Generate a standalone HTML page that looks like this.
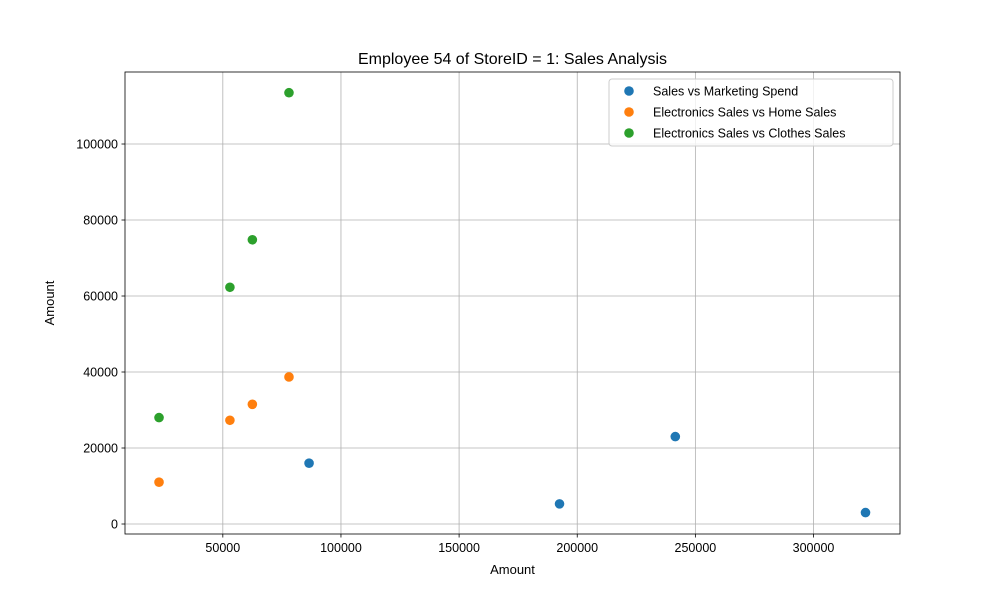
<!DOCTYPE html>
<html><head><meta charset="utf-8"><style>body{margin:0;background:#fff}svg{display:block;font-family:"Liberation Sans","DejaVu Sans",sans-serif}</style></head>
<body>
<svg id="chart" width="1000" height="600" viewBox="0 0 1000 600"></svg>
<script>
const blueX=[86500,192500,241500,322000];
const blueY=[16000,5300,23000,3000];
const orangeX=[23000,53000,62500,78000];
const orangeY=[11000,27300,31500,38700];
const greenX=[23000,53000,62500,78000];
const greenY=[28000,62300,74800,113500];
const xTicks=[50000,100000,150000,200000,250000,300000];
const yTicks=[0,20000,40000,60000,80000,100000];
const seriesNames=["Sales vs Marketing Spend","Electronics Sales vs Home Sales","Electronics Sales vs Clothes Sales"];
const colors=["#1f77b4","#ff7f0e","#2ca02c"];

const L=125,R=900,T=72,B=534;
const xMin=8600,xMax=336600,yMin=-2630,yMax=118950;
const sx=v=>L+(v-xMin)/(xMax-xMin)*(R-L);
const sy=v=>B-(v-yMin)/(yMax-yMin)*(B-T);
const svg=document.getElementById('chart');
const NS='http://www.w3.org/2000/svg';
function mk(tag,attrs,parent){const e=document.createElementNS(NS,tag);for(const k in attrs)e.setAttribute(k,attrs[k]);(parent||svg).appendChild(e);return e;}

const grid=mk('g',{});


xTicks.forEach(t=>{const x=sx(t);
 mk('line',{x1:x,x2:x,y1:T,y2:B,stroke:'#b0b0b0','stroke-width':0.8},grid);
 mk('line',{x1:x,x2:x,y1:B,y2:B+3.5,stroke:'#000','stroke-width':0.8});
 const tx=mk('text',{x:x,y:B+18,'text-anchor':'middle','font-size':12.5});tx.textContent=t;
 
 
});
yTicks.forEach(t=>{const y=sy(t);
 mk('line',{x1:L,x2:R,y1:y,y2:y,stroke:'#b0b0b0','stroke-width':0.8},grid);
 mk('line',{x1:L-3.5,x2:L,y1:y,y2:y,stroke:'#000','stroke-width':0.8});
 const tx=mk('text',{x:L-7,y:y+4.5,'text-anchor':'end','font-size':12.5});tx.textContent=t;
 
 
});
const frame=mk('rect',{x:L,y:T,width:R-L,height:B-T,fill:'none',stroke:'#000','stroke-width':0.8});



const data=[[blueX,blueY],[orangeX,orangeY],[greenX,greenY]];
data.forEach((d,i)=>{const g=mk('g',{});
 
 
 d[0].forEach((xv,j)=>{const c=mk('circle',{cx:sx(xv),cy:sy(d[1][j]),r:4.8,fill:colors[i]},g);
  
  });
});

const title=mk('text',{x:(L+R)/2,y:64,'text-anchor':'middle','font-size':16});title.textContent='Employee 54 of StoreID = 1: Sales Analysis';


const xl=mk('text',{x:(L+R)/2,y:574,'text-anchor':'middle','font-size':13});xl.textContent='Amount';


const yl=mk('text',{x:0,y:0,'text-anchor':'middle','font-size':13,transform:'translate(54,303) rotate(-90)'});yl.textContent='Amount';



const lg=mk('g',{});


mk('rect',{x:609,y:79,width:284,height:67,rx:3,fill:'#fff','fill-opacity':0.8,stroke:'#ccc'},lg);
seriesNames.forEach((n,i)=>{const y=91+i*21;
 const e=mk('g',{},lg);
 
 
 mk('circle',{cx:629,cy:y,r:4.8,fill:colors[i]},e);
 const t=mk('text',{x:653,y:y+4.5,'font-size':12.5},e);t.textContent=n;});
</script>
</body></html>
